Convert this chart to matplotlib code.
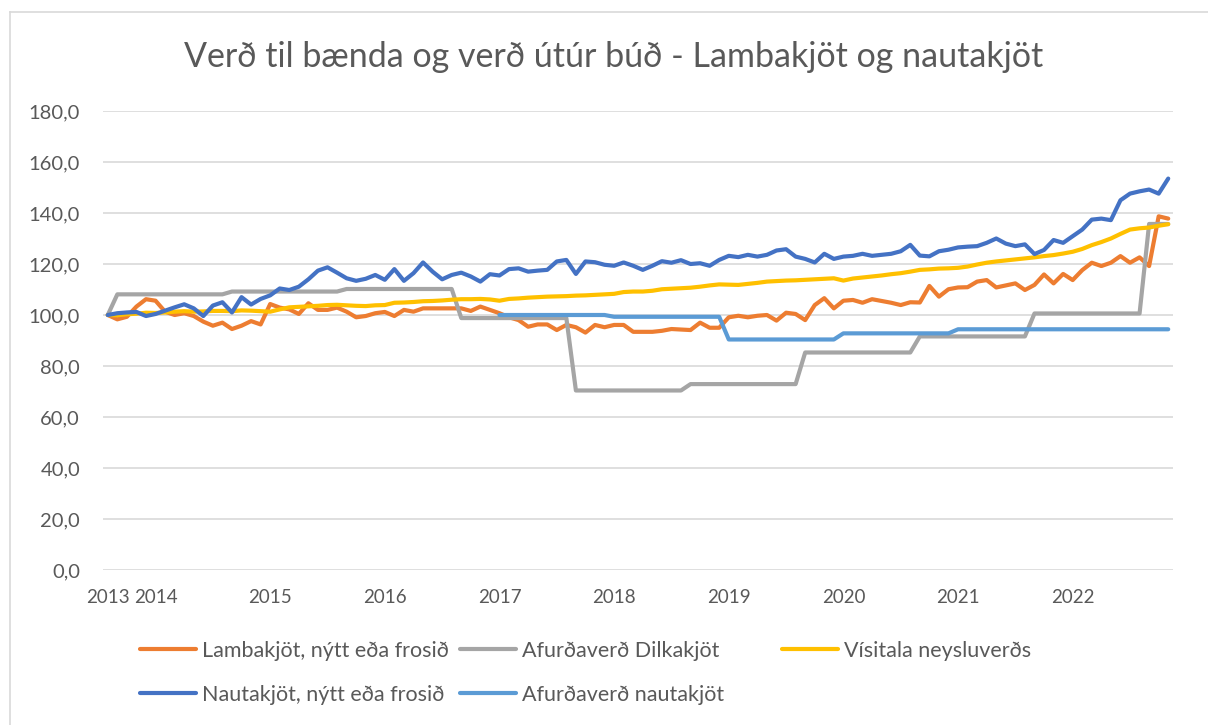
import numpy as np
import pandas as pd
import matplotlib
matplotlib.use("Agg")
import matplotlib.pyplot as plt
from matplotlib.lines import Line2D

# ---------------- data (monthly, Aug 2013 - Nov 2022) ----------------
months = pd.period_range("2013-08", periods=112, freq="M")

lambakjot = [
    100, 98.3, 99.3, 103.3, 106.2, 105.6, 101.3, 100, 100.7, 99.6,
    97.4, 95.8, 97, 94.5, 95.8, 97.6, 96.3, 104.3, 102.9, 102.2,
    100.4, 104.6, 102, 102, 102.9, 101.3, 99.1, 99.6, 100.7, 101.2,
    99.6, 102, 101.3, 102.6, 102.6, 102.6, 102.6, 102.6, 101.6, 103.3,
    102, 100.7, 99.1, 98, 95.4, 96.3, 96.3, 94.1, 96.1, 95.2,
    93.1, 96.1, 95.2, 96.1, 96.1, 93.4, 93.4, 93.4, 93.8, 94.5,
    94.3,
    94.1, 97, 95, 95, 99.1, 99.7, 99.1, 99.7, 100, 97.8,
    100.9, 100.4, 98, 103.9, 106.6, 102.6, 105.6, 105.9, 104.8, 106.2,
    105.5, 104.8, 103.9, 105, 104.9, 111.4, 107.2, 110.1, 110.8, 110.9,
    113.1, 113.7, 110.8, 111.6, 112.4, 109.8, 111.8, 115.9, 112.4, 116.1,
    113.7, 117.6, 120.5, 119.2, 120.5, 123.1, 120.5, 122.6, 119.2, 138.7,
    137.8,
]

dilkakjot = [
    100,
    108.1, 108.1, 108.1, 108.1, 108.1, 108.1, 108.1, 108.1, 108.1, 108.1, 108.1, 108.1,
    109.2, 109.2, 109.2, 109.2, 109.2, 109.2, 109.2, 109.2, 109.2, 109.2, 109.2, 109.2,
    110.2, 110.2, 110.2, 110.2, 110.2, 110.2, 110.2, 110.2, 110.2, 110.2, 110.2, 110.2,
    98.8, 98.8, 98.8, 98.8, 98.8, 98.8, 98.8, 98.8, 98.8, 98.8, 98.8, 98.8,
    70.4, 70.4, 70.4, 70.4, 70.4, 70.4, 70.4, 70.4, 70.4, 70.4, 70.4, 70.4,
    72.9, 72.9, 72.9, 72.9, 72.9, 72.9, 72.9, 72.9, 72.9, 72.9, 72.9, 72.9,
    85.3, 85.3, 85.3, 85.3, 85.3, 85.3, 85.3, 85.3, 85.3, 85.3, 85.3, 85.3,
    91.6, 91.6, 91.6, 91.6, 91.6, 91.6, 91.6, 91.6, 91.6, 91.6, 91.6, 91.6,
    100.6, 100.6, 100.6, 100.6, 100.6, 100.6, 100.6, 100.6, 100.6, 100.6, 100.6, 100.6,
    135.7, 135.7, 135.7,
]

visitala = [
    100, 99.9, 100.3, 100.5, 100.9, 100.8, 101.0, 101.3, 101.5, 101.3, 101.4, 101.6,
    101.6, 101.5, 101.8, 101.7, 101.5, 101.3, 102.2, 103.0, 103.2, 103.4, 103.6, 103.9,
    104.0, 103.8, 103.6, 103.5, 103.8, 103.9, 104.8, 104.9, 105.1, 105.4, 105.5, 105.7,
    106.0, 106.2, 106.2, 106.3, 106.1, 105.6, 106.3, 106.5, 106.8, 107.0, 107.2, 107.3,
    107.4, 107.6, 107.7, 107.9, 108.1, 108.3, 109.0, 109.2, 109.2, 109.5, 110.1, 110.3,
    110.5, 110.7, 111.1, 111.6, 112.0, 111.9, 111.8, 112.2, 112.6, 113.1, 113.3, 113.5,
    113.6, 113.8, 114.0, 114.2, 114.4, 113.5, 114.3, 114.7, 115.1, 115.5, 116.0, 116.4,
    117.0, 117.7, 117.9, 118.2, 118.3, 118.5, 119.0, 119.8, 120.5, 121.0, 121.4, 121.8,
    122.2, 122.6, 123.1, 123.5, 124.1, 124.8, 125.9, 127.4, 128.6, 130.0, 131.8, 133.5,
    134.0, 134.3, 135.0, 135.6,
]

nautakjot = [
    100, 100.7, 101, 101.2, 99.6, 100.4, 101.7, 103, 104.2, 102.6,
    99.6, 103.7, 105, 101, 107, 104.1, 106.3, 107.7, 110.4, 109.8,
    111.1, 114, 117.4, 118.7, 116.6, 114.4, 113.4, 114.2, 115.7, 113.8,
    118, 113.4, 116.4, 120.6, 117, 114, 115.7, 116.6, 115.1, 113.1,
    116, 115.5, 118, 118.3, 117, 117.4, 117.7, 121, 121.6, 116.1,
    121, 120.7, 119.7, 119.3, 120.6, 119.3, 117.7, 119.3, 121.1, 120.5,
    121.5,
    120, 120.3, 119.3, 121.6, 123.2, 122.7, 123.6, 122.9, 123.6, 125.3,
    125.8, 122.9, 122, 120.6, 124, 122, 122.9, 123.2, 124, 123.2,
    123.6, 124, 125, 127.5, 123.3, 123, 125, 125.6, 126.5, 126.8,
    127, 128.3, 130, 128, 127, 127.7, 123.9, 125.5, 129.4, 128.3,
    130.9, 133.5, 137.4, 137.8, 137.2, 145, 147.6, 148.5, 149.2, 147.6,
    153.5,
]

nan = np.nan
afurd_naut = [
    nan, nan, nan, nan, nan, nan, nan, nan, nan, nan, nan, nan,
    nan, nan, nan, nan, nan, nan, nan, nan, nan, nan, nan, nan,
    nan, nan, nan, nan, nan, nan, nan, nan, nan, nan, nan, nan,
    nan, nan, nan, nan, nan,
    100, 100, 100, 100, 100, 100, 100, 100, 100, 100, 100, 100,
    99.3, 99.3, 99.3, 99.3, 99.3, 99.3, 99.3, 99.3, 99.3, 99.3, 99.3, 99.3,
    90.4, 90.4, 90.4, 90.4, 90.4, 90.4, 90.4, 90.4, 90.4, 90.4, 90.4, 90.4,
    92.8, 92.8, 92.8, 92.8, 92.8, 92.8, 92.8, 92.8, 92.8, 92.8, 92.8, 92.8,
    94.4, 94.4, 94.4, 94.4, 94.4, 94.4, 94.4, 94.4, 94.4, 94.4, 94.4, 94.4,
    94.4, 94.4, 94.4, 94.4, 94.4, 94.4, 94.4, 94.4, 94.4, 94.4, 94.4,
]

series_names = ["Lambakjöt, nýtt eða frosið", "Afurðaverð Dilkakjöt",
                "Vísitala neysluverðs", "Nautakjöt, nýtt eða frosið",
                "Afurðaverð nautakjöt"]
title = "Verð til bænda og verð útúr búð - Lambakjöt og nautakjöt"
y_ticks = [0, 20, 40, 60, 80, 100, 120, 140, 160, 180]

# ---------------- drawing ----------------
W, H = 1208, 725
FONT = "Lato"
TXT = "#595959"
colors = ["#ED7D31", "#A5A5A5", "#FFC000", "#4472C4", "#5B9BD5"]

fig = plt.figure(figsize=(W / 100, H / 100), dpi=100)
fig.patch.set_facecolor("white")

# chart border (left/top visible)
fig.add_artist(Line2D([10 / W, 10 / W], [0, 1 - 12 / H], color="#D9D9D9", lw=1.2,
                      transform=fig.transFigure))
fig.add_artist(Line2D([10 / W, 1], [1 - 12 / H, 1 - 12 / H], color="#D9D9D9", lw=1.2,
                      transform=fig.transFigure))

left, right, top, bottom = 103, 1173, 111, 570
ax = fig.add_axes([left / W, 1 - bottom / H, (right - left) / W, (bottom - top) / H])

x = np.arange(len(months))
data = [lambakjot, dilkakjot, visitala, nautakjot, afurd_naut]
lines = []
for vals, c, name in zip(data, colors, series_names):
    ln, = ax.plot(x, np.array(vals, dtype=float), color=c, lw=3.0, label=name,
                  solid_joinstyle="round", solid_capstyle="round", zorder=3)
    lines.append(ln)

ax.set_xlim(-0.5, len(months) - 0.5)
ax.set_ylim(0, 180)
ax.set_yticks(y_ticks)
ax.set_yticklabels([f"{v:.1f}".replace(".", ",") for v in y_ticks])
ax.yaxis.grid(True, color="#D9D9D9", lw=1.2, zorder=0)
ax.set_axisbelow(True)

# year tick labels at first month of each year (and first point for 2013)
years = sorted(set(m.year for m in months))
tick_pos = [int(np.argmax([m.year == y for m in months])) for y in years]
ax.set_xticks(tick_pos)
ax.set_xticklabels([str(y) for y in years])

for s in ax.spines.values():
    s.set_visible(False)
ax.tick_params(axis="both", length=0, colors=TXT)
ax.tick_params(axis="y", pad=16.5, labelsize=14.5)
ax.tick_params(axis="x", pad=14, labelsize=13.5)
for lab in ax.get_xticklabels() + ax.get_yticklabels():
    lab.set_family(FONT)

fig.text(614 / W, 1 - 57 / H, title, ha="center", va="center", fontsize=24.5,
         color=TXT, family=FONT)

# legend entries positioned like the Excel legend
legend_pos = [(140, 651), (460, 651), (782, 651), (140, 695), (460, 695)]
for ln, (lx, ly) in zip(lines, legend_pos):
    leg = fig.legend(handles=[ln], loc="center left",
                     bbox_to_anchor=(lx / W, 1 - ly / H),
                     frameon=False, borderpad=0, borderaxespad=0,
                     handlelength=2.6, handletextpad=0.3,
                     prop={"family": FONT, "size": 15.5})
    for t in leg.get_texts():
        t.set_color(TXT)

fig.savefig("out.png", dpi=100, facecolor="white")
